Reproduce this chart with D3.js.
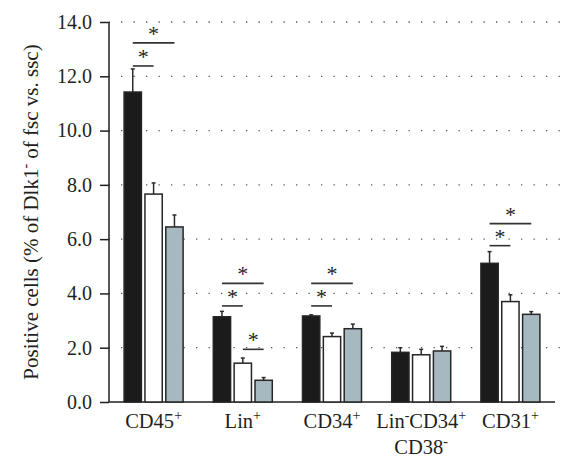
<!DOCTYPE html>
<html><head><meta charset="utf-8">
<script src="https://cdn.jsdelivr.net/npm/d3@7"></script>
<style>body{margin:0;background:#fff}svg{display:block}text{font-family:"Liberation Serif","Times New Roman",serif;fill:#231f20}</style>
</head><body><svg id="c" width="570" height="469"></svg>
<script>
const categories = ["CD45", "Lin", "CD34", "LinCD34CD38", "CD31"];
const seriesNames = ["s1", "s2", "s3"];
const meanS1 = [11.42, 3.14, 3.17, 1.83, 5.11];
const meanS2 = [7.66, 1.43, 2.41, 1.74, 3.70];
const meanS3 = [6.45, 0.80, 2.70, 1.88, 3.23];
const errS1 = [0.85, 0.20, 0.04, 0.17, 0.43];
const errS2 = [0.41, 0.19, 0.13, 0.20, 0.25];
const errS3 = [0.44, 0.10, 0.17, 0.17, 0.10];
const yTicks = [0, 2, 4, 6, 8, 10, 12, 14];
// significance brackets: category, from series, to series, y level
const sigCat = ["CD45", "CD45", "Lin", "Lin", "Lin", "CD34", "CD34", "CD31", "CD31"];
const sigFrom = [0, 0, 0, 0, 1, 0, 0, 0, 0];
const sigTo = [1, 2, 1, 2, 2, 1, 2, 1, 2];
const sigY = [12.38, 13.23, 3.54, 4.37, 1.94, 3.54, 4.37, 5.76, 6.57];

const FS = 20.5;
const colors = ["#1b1b1b", "#ffffff", "#a7b9c0"];
const svg = d3.select("#c");
const x0 = d3.scaleBand().domain(categories).range([109, 555]).paddingInner(0).paddingOuter(0);
const y = d3.scaleLinear().domain([0, 14]).range([402, 22]);
const inner = d3.scaleBand().domain([0,1,2]).range([0, 59]).paddingInner(0.17);
const groupOffset = (x0.bandwidth() - 59) / 2;
const bx = (c, s) => x0(c) + groupOffset + inner(s);
const bw = inner.bandwidth();

// grid
svg.append("g").selectAll("line").data(yTicks.filter(d => d > 0)).join("line")
  .attr("x1", 109).attr("x2", 566).attr("y1", d => y(d)).attr("y2", d => y(d))
  .attr("stroke", "#555").attr("stroke-width", 1.3).attr("stroke-dasharray", "1.3,11.2").attr("stroke-dashoffset", -12);

// y axis
const ya = svg.append("g").attr("transform", "translate(109,0)")
  .call(d3.axisLeft(y).tickValues(yTicks).tickFormat(d3.format(".1f")).tickSize(9).tickPadding(8));
ya.select(".domain").attr("stroke", "#231f20").attr("stroke-width", 1.5).attr("d", `M0,${y(14)}V${y(0)}`);
ya.selectAll(".tick line").attr("stroke", "#231f20").attr("stroke-width", 1.5);
ya.selectAll(".tick text").attr("font-size", 20).attr("font-family", "Liberation Serif, serif").attr("fill", "#231f20");

// x axis line
svg.append("line").attr("x1", 109).attr("x2", 555).attr("y1", y(0)).attr("y2", y(0))
  .attr("stroke", "#231f20").attr("stroke-width", 1.5);

const means = [meanS1, meanS2, meanS3];
const errs = [errS1, errS2, errS3];
const bars = [];
categories.forEach((c, i) => [0,1,2].forEach(s => bars.push({c, s, v: means[s][i], e: errs[s][i]})));

// error bars
const eg = svg.append("g").attr("stroke", "#2b2b2b").attr("stroke-width", 1.5);
eg.selectAll("line.v").data(bars).join("line").attr("class", "v")
  .attr("x1", d => bx(d.c, d.s) + bw/2).attr("x2", d => bx(d.c, d.s) + bw/2)
  .attr("y1", d => y(d.v)).attr("y2", d => y(d.v + d.e));
eg.selectAll("line.h").data(bars).join("line").attr("class", "h")
  .attr("x1", d => bx(d.c, d.s) + bw/2 - 2).attr("x2", d => bx(d.c, d.s) + bw/2 + 2)
  .attr("y1", d => y(d.v + d.e)).attr("y2", d => y(d.v + d.e));

// bars
svg.append("g").selectAll("rect").data(bars).join("rect")
  .attr("x", d => bx(d.c, d.s)).attr("width", bw)
  .attr("y", d => y(d.v)).attr("height", d => y(0) - y(d.v))
  .attr("fill", d => colors[d.s]).attr("stroke", "#262626").attr("stroke-width", 1.5);

// significance
const sg = svg.append("g");
sigCat.forEach((c, i) => {
  const xa = bx(c, sigFrom[i]) + bw/2, xb = bx(c, sigTo[i]) + bw/2;
  sg.append("line").attr("x1", xa).attr("x2", xb).attr("y1", y(sigY[i])).attr("y2", y(sigY[i]))
    .attr("stroke", "#333").attr("stroke-width", 1.6);
  sg.append("text").attr("x", (xa + xb)/2).attr("y", y(sigY[i]) - 2).attr("text-anchor", "middle")
    .attr("font-size", 22).text("*");
});

// x labels
const xl = svg.append("g").attr("font-size", FS).attr("text-anchor", "middle");
const cx = c => x0(c) + x0.bandwidth()/2;
function lab(c, parts, yy) {
  const t = xl.append("text").attr("x", cx(c)).attr("y", yy);
  parts.forEach(p => {
    if (p[1]) t.append("tspan").attr("font-size", 14).attr("dy", -8).text(p[0]);
    else t.append("tspan").attr("dy", p[2] || 0).text(p[0]);
  });
  return t;
}
lab("CD45", [["CD45"], ["+", 1]], 428);
lab("Lin", [["Lin"], ["+", 1]], 428);
lab("CD34", [["CD34"], ["+", 1]], 428);
lab("LinCD34CD38", [["Lin"], ["-", 1], ["CD34", 0, 8], ["+", 1]], 428);
lab("LinCD34CD38", [["CD38"], ["-", 1]], 454);
lab("CD31", [["CD31"], ["+", 1]], 428);

// y label
const yl = svg.append("text").attr("transform", "translate(38,212) rotate(-90)").attr("text-anchor", "middle").attr("font-size", 21);
yl.append("tspan").text("Positive cells (% of Dlk1");
yl.append("tspan").attr("font-size", 14).attr("dy", -8).text("-");
yl.append("tspan").attr("dy", 8).text(" of fsc vs. ssc)");
</script></body></html>
